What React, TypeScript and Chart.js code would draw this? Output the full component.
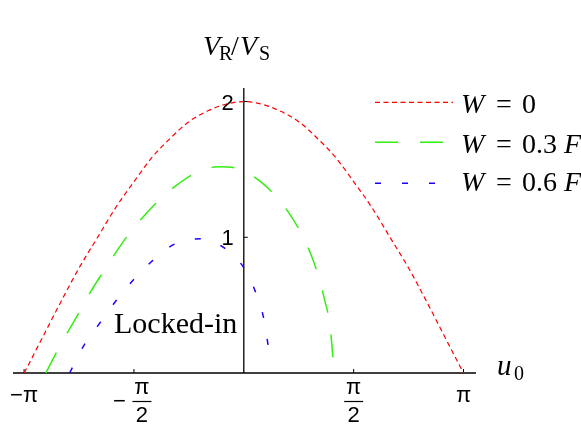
import { useEffect, useRef } from "react";
import { Chart, registerables } from "chart.js";

Chart.register(...registerables);

// Relative voltage V_R / V_S against the phase u_0 for three values of W.
const uW0 = [-3.14, -2.88, -2.62, -2.36, -2.09, -1.83, -1.57, -1.31, -1.05, -0.79, -0.52, -0.26, 0, 0.26, 0.52, 0.79, 1.05, 1.31, 1.57, 1.83, 2.09, 2.36, 2.62, 2.88, 3.14];
const vW0 = [0, 0.26, 0.52, 0.77, 1.0, 1.22, 1.41, 1.59, 1.73, 1.85, 1.93, 1.98, 2.0, 1.98, 1.93, 1.85, 1.73, 1.59, 1.41, 1.22, 1.0, 0.77, 0.52, 0.26, 0];

const uW03 = [-2.83, -2.68, -2.52, -2.36, -2.2, -2.03, -1.84, -1.65, -1.44, -1.22, -0.97, -0.7, -0.37, -0.05, 0.24, 0.48, 0.67, 0.84, 0.97, 1.08, 1.16, 1.23, 1.26, 1.275];
const vW03 = [0, 0.15, 0.3, 0.44, 0.59, 0.73, 0.88, 1.02, 1.15, 1.27, 1.38, 1.47, 1.52, 1.5, 1.41, 1.29, 1.16, 1.01, 0.86, 0.69, 0.53, 0.36, 0.2, 0.11];

const uW06 = [-2.49, -2.29, -2.07, -1.83, -1.59, -1.3, -0.99, -0.6, -0.25, 0.02, 0.18, 0.29, 0.36];
const vW06 = [0, 0.2, 0.36, 0.53, 0.68, 0.83, 0.95, 0.99, 0.91, 0.76, 0.58, 0.39, 0.16];

// Axis ticks
const xTickValues = [-Math.PI, -Math.PI / 2, Math.PI / 2, Math.PI];
const xTickSigns = ["−", "−", "", ""];
const xTickDenominators = ["", "2", "2", ""];
const yTickValues = [1, 2];
const yTickLabels = ["1", "2"];

// Legend
const legendValues = ["0", "0.3", "0.6"];
const legendUnits = ["", "F", "F"];
const seriesColors = ["#ff0000", "#33ee11", "#1a00ff"];
const seriesDashes = [[5, 3.5], [23, 22], [6, 21]];
const seriesWidths = [1.2, 1.5, 1.5];

const SERIF = '"Liberation Serif", "Times New Roman", serif';
const SANS = '"Liberation Sans", Arial, sans-serif';

const pts = (u: number[], v: number[]) => u.map((x, i) => ({ x, y: v[i] }));

function put(ctx: CanvasRenderingContext2D, s: string, x: number, y: number, font: string, align: CanvasTextAlign = "left") {
  ctx.font = font;
  ctx.textAlign = align;
  ctx.textBaseline = "alphabetic";
  ctx.fillStyle = "#000";
  ctx.fillText(s, x, y);
}

const axesPlugin = {
  id: "mathAxes",
  beforeDatasetsDraw(chart: any) {
    const { ctx, chartArea, scales } = chart;
    const x0 = scales.x.getPixelForValue(0);
    const y0 = scales.y.getPixelForValue(0);
    ctx.save();
    ctx.strokeStyle = "#000";
    ctx.lineWidth = 1.3;
    ctx.beginPath();
    ctx.moveTo(chartArea.left, y0);
    ctx.lineTo(chartArea.right, y0);
    ctx.moveTo(x0, chartArea.bottom);
    ctx.lineTo(x0, chartArea.top);
    ctx.stroke();
    ctx.lineWidth = 1;
    ctx.beginPath();
    xTickValues.forEach((v) => {
      const px = scales.x.getPixelForValue(v);
      ctx.moveTo(px, y0);
      ctx.lineTo(px, y0 - 4);
    });
    yTickValues.forEach((v) => {
      const py = scales.y.getPixelForValue(v);
      ctx.moveTo(x0, py);
      ctx.lineTo(x0 + 4, py);
    });
    ctx.stroke();
    ctx.restore();
  },
  afterDatasetsDraw(chart: any) {
    const { ctx, scales } = chart;
    const x0 = scales.x.getPixelForValue(0);
    const y0 = scales.y.getPixelForValue(0);
    ctx.save();
    const tickFont = `22px ${SANS}`;

    // x tick labels, fractions stacked with a bar
    xTickValues.forEach((v, i) => {
      const px = scales.x.getPixelForValue(v);
      const den = xTickDenominators[i];
      const sign = xTickSigns[i];
      if (!den) {
        put(ctx, sign + "π", px, y0 + 29, tickFont, "center");
      } else {
        const cx = sign ? px + 8 : px;
        put(ctx, "π", cx, y0 + 21, tickFont, "center");
        ctx.strokeStyle = "#000";
        ctx.lineWidth = 1.2;
        ctx.beginPath();
        ctx.moveTo(cx - 9.5, y0 + 28.5);
        ctx.lineTo(cx + 9.5, y0 + 28.5);
        ctx.stroke();
        put(ctx, den, cx, y0 + 49, tickFont, "center");
        if (sign) put(ctx, sign, cx - 16, y0 + 35, tickFont, "right");
      }
    });

    // y tick labels
    yTickValues.forEach((v, i) => {
      const py = scales.y.getPixelForValue(v);
      put(ctx, yTickLabels[i], x0 - 10, py + 8, tickFont, "right");
    });

    // axis titles
    const big = `italic 28px ${SERIF}`;
    const sub = `20px ${SERIF}`;
    put(ctx, "V", 203, 55, big);
    put(ctx, "R", 219, 60, sub);
    put(ctx, "/", 231, 55, `28px ${SERIF}`);
    put(ctx, "V", 240, 55, big);
    put(ctx, "S", 259, 60, sub);

    put(ctx, "u", 497, 375, `italic 29px ${SERIF}`);
    put(ctx, "0", 514, 380, sub);

    put(ctx, "Locked-in", 114, 333, `30px ${SERIF}`);

    // legend
    const lineY = [102.3, 142.3, 183.3];
    const textY = [113, 153, 191];
    legendValues.forEach((val, i) => {
      ctx.save();
      ctx.strokeStyle = seriesColors[i];
      ctx.lineWidth = seriesWidths[i];
      ctx.setLineDash(seriesDashes[i]);
      ctx.beginPath();
      ctx.moveTo(375, lineY[i]);
      ctx.lineTo(453, lineY[i]);
      ctx.stroke();
      ctx.restore();
      put(ctx, "W", 461, textY[i], `italic 28px ${SERIF}`);
      put(ctx, "=", 496, textY[i], `28px ${SERIF}`);
      put(ctx, val, 522, textY[i], `28px ${SERIF}`);
      if (legendUnits[i]) put(ctx, legendUnits[i], 564, textY[i], `italic 28px ${SERIF}`);
    });
    ctx.restore();
  },
};

export default function App() {
  const ref = useRef<HTMLCanvasElement>(null);
  useEffect(() => {
    if (!ref.current) return;
    const series = [pts(uW0, vW0), pts(uW03, vW03), pts(uW06, vW06)];
    const chart = new Chart(ref.current, {
      type: "scatter",
      data: {
        datasets: series.map((d, i) => ({
          label: `W = ${legendValues[i]}${legendUnits[i] ? " " + legendUnits[i] : ""}`,
          data: d,
          showLine: true,
          borderColor: seriesColors[i],
          backgroundColor: seriesColors[i],
          borderWidth: seriesWidths[i],
          borderDash: seriesDashes[i],
          pointRadius: 0,
          cubicInterpolationMode: "monotone" as const,
        })),
      },
      options: {
        animation: false,
        responsive: false,
        devicePixelRatio: 1,
        layout: { padding: { left: 13, right: 105, top: 88, bottom: 53 } },
        plugins: { legend: { display: false }, tooltip: { enabled: false } },
        scales: {
          x: { type: "linear", min: -3.3, max: 3.32, display: false },
          y: { type: "linear", min: 0, max: 2.1, display: false },
        },
      },
      plugins: [axesPlugin],
    });
    return () => chart.destroy();
  }, []);
  return (
    <div style={{ position: "fixed", left: 0, top: 0, width: 581, height: 426, background: "#fff" }}>
      <canvas ref={ref} width={581} height={426} style={{ display: "block" }} />
    </div>
  );
}
